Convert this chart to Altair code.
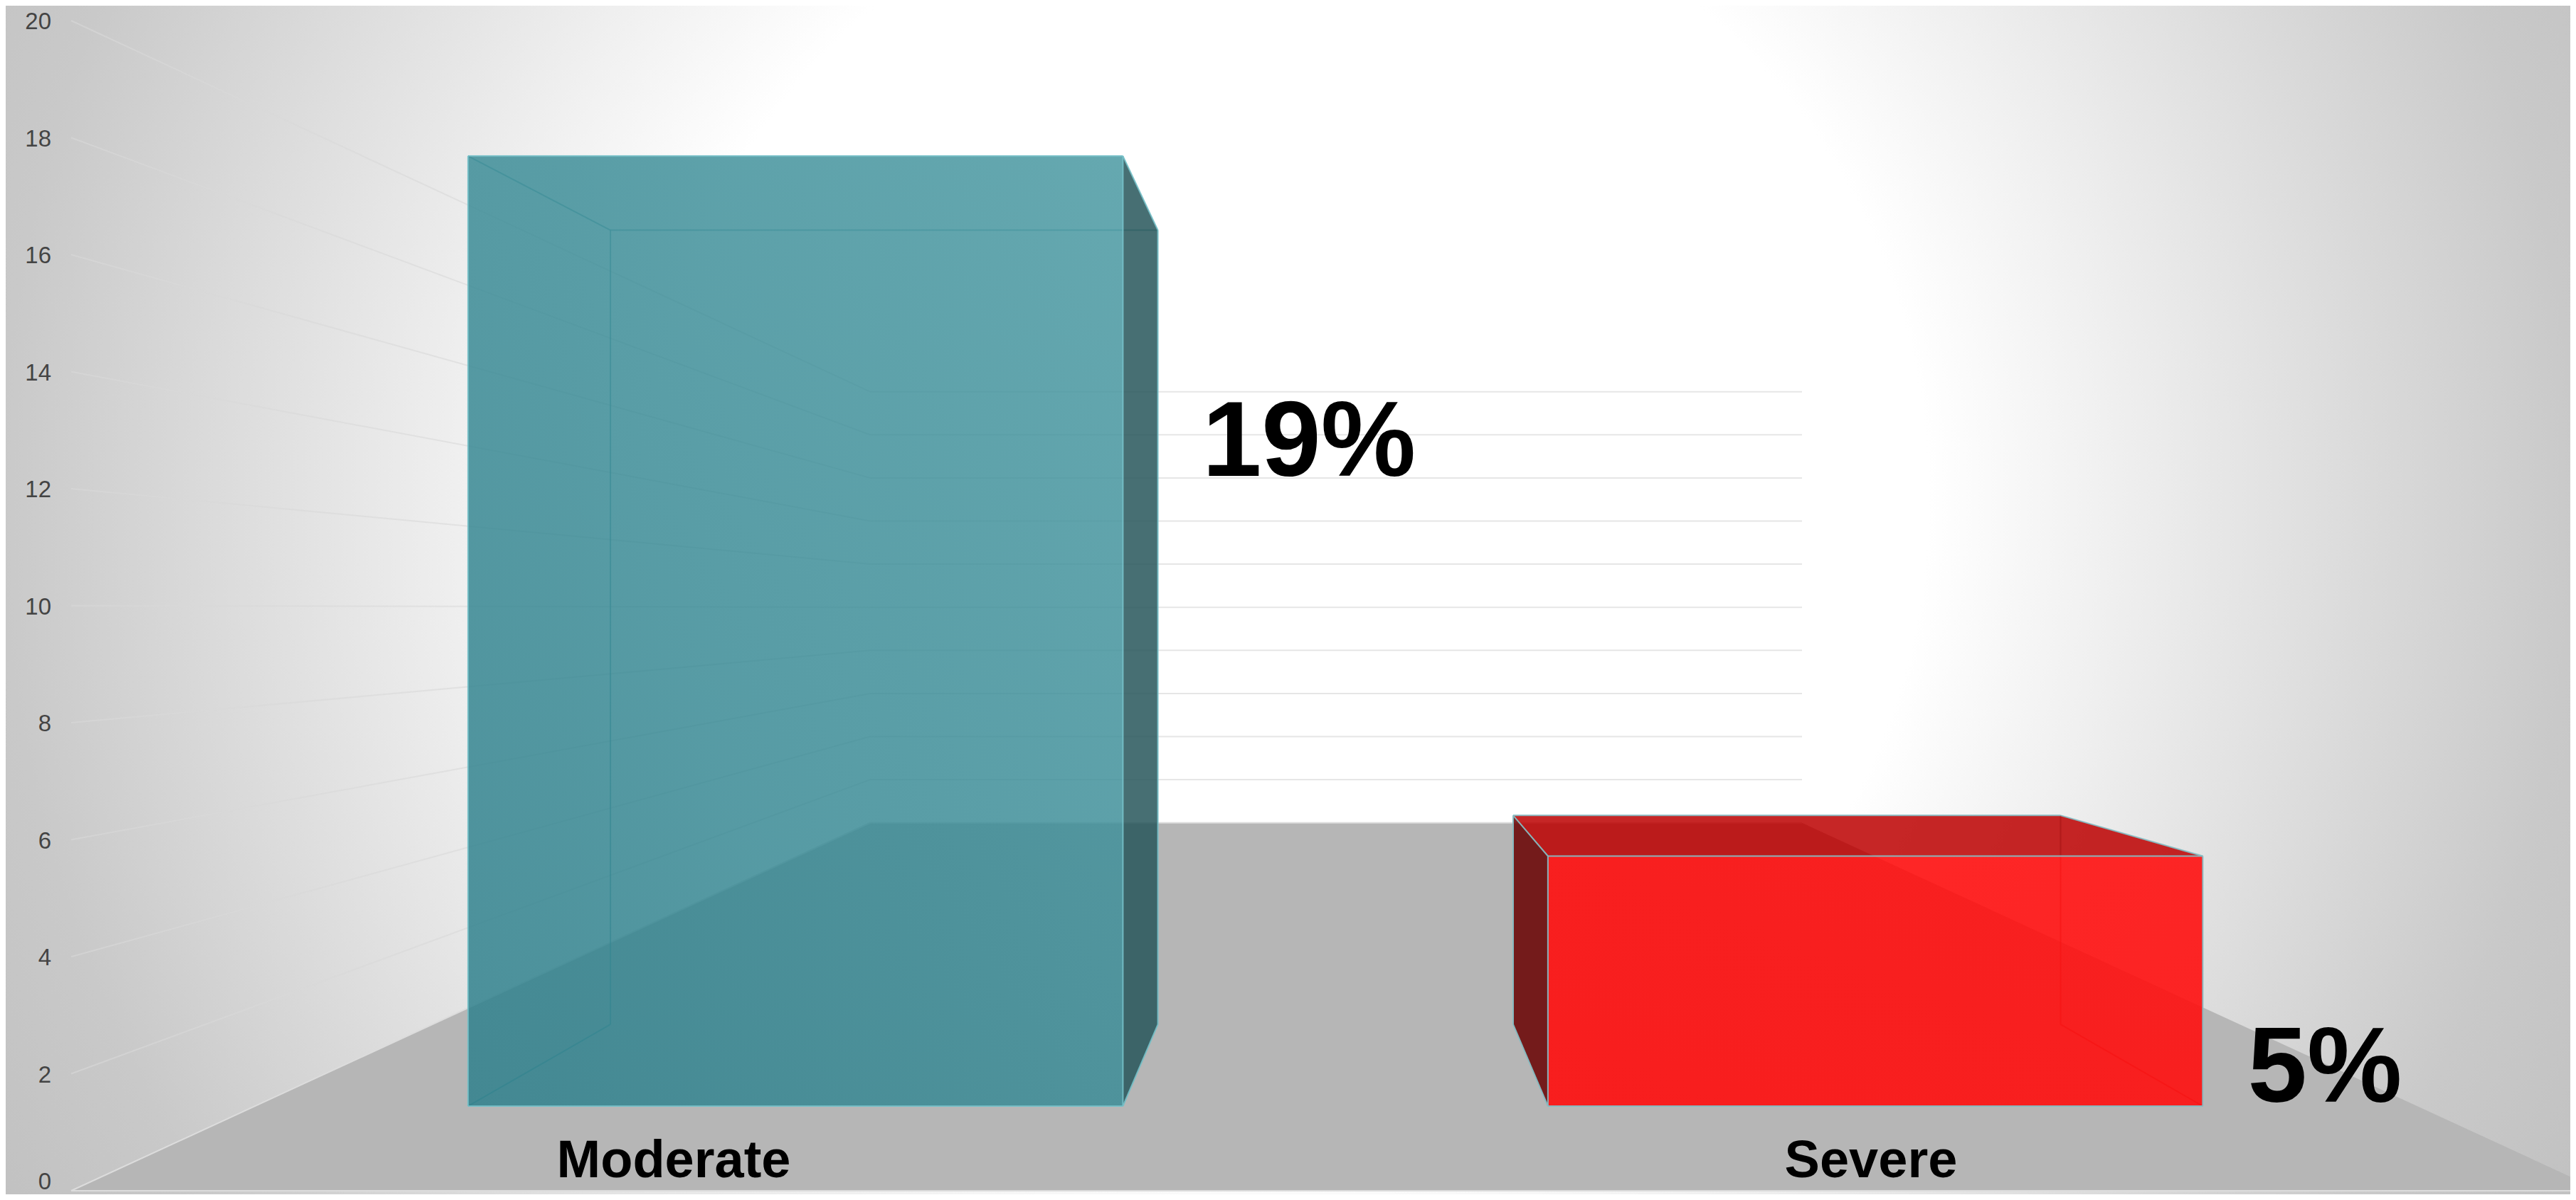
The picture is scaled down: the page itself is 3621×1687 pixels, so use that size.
import altair as alt
import pandas as pd

# ---- chart values ----
categories = ["Moderate", "Severe"]
values = [19, 5]
value_labels = ["19%", "5%"]
tick_values = [0, 2, 4, 6, 8, 10, 12, 14, 16, 18, 20]

# ---- layout of the 3-D scene (reference pixels) ----
W, H = 3605, 1671
OX, OY = 8, 8
VX, VY = 1878.0, 855.0      # vanishing point
HW = 819.0                  # floor height below the vanishing point at depth 1
U = 82.25                   # pixels per value unit at depth 1
S_BACK_WALL = 0.3684
S_BAR_FRONT = 0.8547
S_BAR_BACK = 0.7145
WALL_X = -1778.0
CENTERS = [-889.0, 887.0]
HALF = 538.5
AXIS_LABEL_X = 72
AXIS_LABEL_MAX_Y = 1660     # keeps the lowest tick label inside the picture
CAT_LABEL_X = [947, 2630]
CAT_LABEL_Y = 1655
VAL_LABEL_X = [1840, 3268]
VAL_LABEL_Y = [669, 1549]
GLOW_X, GLOW_Y, GLOW_R = 1810, 700, 2200
FONT = "Liberation Sans"

XS = alt.Scale(domain=[OX, OX + W], nice=False, zero=False)
YS = alt.Scale(domain=[OY + H, OY], nice=False, zero=False)


def P(xw, v, s):
    return (VX + s * xw, VY + s * (HW - v * U))


def polygon(points, fill, opacity=1.0, clip=False):
    """A convex polygon as an area mark: upper and lower boundary per x."""
    xs = sorted({round(p[0], 3) for p in points})
    n = len(points)
    rows = []
    for x in xs:
        ys = []
        for i in range(n):
            (a, b), (c, d) = points[i], points[(i + 1) % n]
            lo, hi = min(a, c), max(a, c)
            if lo - 0.002 <= x <= hi + 0.002:
                if abs(c - a) < 0.002:
                    ys += [b, d]
                else:
                    ys.append(b + (d - b) * (x - a) / (c - a))
        rows.append({"x": x, "y0": min(ys), "y1": max(ys)})
    return alt.Chart(pd.DataFrame(rows)).mark_area(
        fill=fill, fillOpacity=opacity, orient="vertical", clip=clip, strokeWidth=0
    ).encode(
        x=alt.X("x:Q", scale=XS, axis=None),
        y=alt.Y("y0:Q", scale=YS, axis=None),
        y2="y1:Q",
    )


def edges(segments, color, width=2.0, opacity=1.0, clip=False):
    rows = [{"x0": a[0], "y0": a[1], "x1": b[0], "y1": b[1]} for a, b in segments]
    return alt.Chart(pd.DataFrame(rows)).mark_rule(
        color=color, strokeWidth=width, opacity=opacity, clip=clip
    ).encode(
        x=alt.X("x0:Q", scale=XS, axis=None),
        y=alt.Y("y0:Q", scale=YS, axis=None),
        x2="x1:Q",
        y2="y1:Q",
    )


def linear(c0, c1):
    return {"gradient": "linear", "x1": 0, "y1": 1, "x2": 1, "y2": 0,
            "stops": [{"offset": 0, "color": c0}, {"offset": 1, "color": c1}]}


layers = []

# backdrop: a square cell so that the glow stays circular, clipped to the plot
bg = {"gradient": "radial", "x1": 0.5, "y1": 0.5, "r1": 0, "x2": 0.5, "y2": 0.5, "r2": 0.5,
      "stops": [{"offset": 0, "color": "#ffffff"}, {"offset": 900 / GLOW_R, "color": "#ffffff"},
                {"offset": 1810 / GLOW_R, "color": "#c9c9c9"}, {"offset": 1, "color": "#bdbdbd"}]}
layers.append(alt.Chart(pd.DataFrame({
    "x": [GLOW_X - GLOW_R], "x2": [GLOW_X + GLOW_R],
    "y": [GLOW_Y - GLOW_R], "y2": [GLOW_Y + GLOW_R]})).mark_rect(fill=bg, clip=True).encode(
    x=alt.X("x:Q", scale=XS, axis=None), x2="x2:Q",
    y=alt.Y("y:Q", scale=YS, axis=None), y2="y2:Q"))

# floor
fl = [P(WALL_X, 0, 1), P(WALL_X, 0, S_BACK_WALL), P(-WALL_X, 0, S_BACK_WALL), P(-WALL_X, 0, 1)]
layers.append(polygon(fl, "#b6b6b6", clip=True))
layers.append(edges([(fl[0], fl[1]), (fl[1], fl[2]), (fl[0], (OX + W, fl[0][1]))], "#dcdcdc", 2))

# wall grid lines
walls = [(P(WALL_X, v, 1), P(WALL_X, v, S_BACK_WALL)) for v in tick_values if v > 0]
layers.append(edges(walls, "#d8d8d8", 2, 0.6))
back = [(P(WALL_X, v, S_BACK_WALL), P(-WALL_X, v, S_BACK_WALL)) for v in tick_values if v > 0]
layers.append(edges(back, "#e6e6e6", 2))

# axis labels
layers.append(alt.Chart(pd.DataFrame({
    "t": [str(v) for v in tick_values],
    "x": [AXIS_LABEL_X] * len(tick_values),
    "y": [min(P(WALL_X, v, 1)[1], AXIS_LABEL_MAX_Y) for v in tick_values]})).mark_text(
    font=FONT, fontSize=33, color="#444444", align="right", baseline="middle", dy=2
).encode(x=alt.X("x:Q", scale=XS, axis=None), y=alt.Y("y:Q", scale=YS, axis=None), text="t:N"))

# Moderate bar (19)
cx, v = CENTERS[0], values[0]
L, R = cx - HALF, cx + HALF
ftl, ftr = P(L, v, S_BAR_FRONT), P(R, v, S_BAR_FRONT)
fbl, fbr = P(L, 0, S_BAR_FRONT), P(R, 0, S_BAR_FRONT)
btl, btr = P(L, v, S_BAR_BACK), P(R, v, S_BAR_BACK)
bbl, bbr = P(L, 0, S_BAR_BACK), P(R, 0, S_BAR_BACK)
layers.append(edges([(btl, btr), (btl, bbl), (ftl, btl), (fbl, bbl)], "#2f8a92", 2, 0.6))
layers.append(polygon([ftr, btr, bbr, fbr], "#27565b", 0.85))
layers.append(polygon([ftl, ftr, fbr, fbl], linear("#2f808c", "#4a99a2"), 0.85))
layers.append(edges([(ftl, ftr), (ftr, fbr), (fbr, fbl), (fbl, ftl), (ftr, btr), (btr, bbr), (bbr, fbr)],
                    "#74c0c8", 2, 0.9))

# Severe bar (5)
cx, v = CENTERS[1], values[1]
L, R = cx - HALF, cx + HALF
ftl, ftr = P(L, v, S_BAR_FRONT), P(R, v, S_BAR_FRONT)
fbl, fbr = P(L, 0, S_BAR_FRONT), P(R, 0, S_BAR_FRONT)
btl, btr = P(L, v, S_BAR_BACK), P(R, v, S_BAR_BACK)
bbl, bbr = P(L, 0, S_BAR_BACK), P(R, 0, S_BAR_BACK)
layers.append(polygon([btl, btr, ftr, ftl], "#bc0000", 0.85))
layers.append(polygon([btl, ftl, fbl, bbl], "#690000", 0.85))
layers.append(edges([(btr, bbr), (bbr, fbr)], "#a01010", 2, 0.5))
layers.append(polygon([ftl, ftr, fbr, fbl], linear("#ff0d0d", "#ff1010"), 0.9))
layers.append(edges([(ftl, ftr), (ftr, fbr), (fbr, fbl), (fbl, ftl), (btl, btr), (btl, ftl), (btr, ftr),
                     (btl, bbl), (bbl, fbl)], "#86bcc2", 2, 0.95))

# category labels
layers.append(alt.Chart(pd.DataFrame({"t": categories, "x": CAT_LABEL_X, "y": [CAT_LABEL_Y] * 2})).mark_text(
    font=FONT, fontSize=74, fontWeight="bold", color="#000000", align="center", baseline="alphabetic"
).encode(x=alt.X("x:Q", scale=XS, axis=None), y=alt.Y("y:Q", scale=YS, axis=None), text="t:N"))

# value labels
layers.append(alt.Chart(pd.DataFrame({"t": value_labels, "x": VAL_LABEL_X, "y": VAL_LABEL_Y})).mark_text(
    font=FONT, fontSize=150, fontWeight="bold", color="#000000", align="center", baseline="alphabetic"
).encode(x=alt.X("x:Q", scale=XS, axis=None), y=alt.Y("y:Q", scale=YS, axis=None), text="t:N"))

chart = alt.layer(*layers).properties(
    width=W, height=H, padding=0, background="#ffffff",
    autosize=alt.AutoSizeParams(type="none"),
).configure_view(strokeWidth=0)

chart.save("out.html", embed_options={"renderer": "svg", "actions": False})
